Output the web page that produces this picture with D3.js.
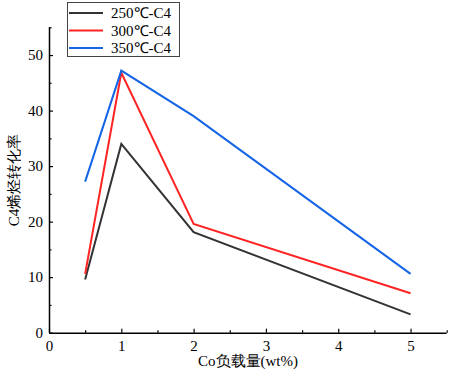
<!DOCTYPE html>
<html><head><meta charset="utf-8">
<script src="https://cdn.jsdelivr.net/npm/d3@7"></script>
<style>body{margin:0;background:#fff}</style>
</head><body>
<svg id="c" width="449" height="378"></svg>
<script>
const loading = [0.5, 1, 2, 5];
const s250 = [9.6, 34.0, 18.1, 3.3];
const s300 = [10.6, 46.8, 19.6, 7.1];
const s350 = [27.2, 47.2, 39.0, 10.6];
const seriesNames = ["250℃-C4", "300℃-C4", "350℃-C4"];
const colors = ["#333333", "#ff2424", "#1464e6"];
const xTicks = [0, 1, 2, 3, 4, 5];
const yTicks = [0, 10, 20, 30, 40, 50];

const svg = d3.select("#c");
const m = {l: 49, t: 27, r: 2, b: 45};
const W = 449, H = 378;
const x = d3.scaleLinear().domain([0, 5.5]).range([m.l, 446.7]);
const y = d3.scaleLinear().domain([0, 55]).range([332.7, 27.3]);
const font = "'Liberation Serif','Times New Roman',serif";

const series = [s250, s300, s350];
const line = d3.line().x((d, i) => x(loading[i])).y(d => y(d));
series.forEach((s, k) => {
  svg.append("path").datum(s).attr("d", line)
    .attr("fill", "none").attr("stroke", colors[k]).attr("stroke-width", 2);
});

// axes
const xAxis = svg.append("g").attr("transform", `translate(0,${y(0)})`)
  .call(d3.axisBottom(x).tickValues(xTicks).tickSize(-4).tickPadding(8).tickFormat(d3.format("d")));
svg.append("g").attr("transform", `translate(0,${y(0)})`)
  .call(d3.axisBottom(x).tickValues([0.5,1.5,2.5,3.5,4.5,5.5]).tickSize(-2.5).tickFormat("")).select(".domain").remove();
const yAxis = svg.append("g").attr("transform", `translate(${x(0)},0)`)
  .call(d3.axisLeft(y).tickValues(yTicks).tickSize(-4).tickPadding(6));
svg.append("g").attr("transform", `translate(${x(0)},0)`)
  .call(d3.axisLeft(y).tickValues([5,15,25,35,45,55]).tickSize(-2.5).tickFormat("")).select(".domain").remove();
svg.selectAll(".domain").attr("stroke", "#000").attr("stroke-width", 1.5);
svg.selectAll(".tick line").attr("stroke", "#000").attr("stroke-width", 1.2);
svg.selectAll(".tick text").attr("font-family", font).attr("font-size", 15).attr("fill", "#000");
svg.selectAll("g").attr("font-family", font);
yAxis.selectAll(".domain").attr("d", `M0.5,${y(55)}V${y(0)}`);
xAxis.selectAll(".domain").attr("d", `M${x(0)},0.5H${x(5.5)}`);

// axis titles
svg.append("text").attr("x", 248).attr("y", 366).attr("text-anchor", "middle")
  .attr("font-family", font).attr("font-size", 15).text("Co负载量(wt%)");
svg.append("text").attr("transform", `translate(19,${(y(0)+y(55))/2}) rotate(-90)`)
  .attr("text-anchor", "middle").attr("font-family", font).attr("font-size", 15).text("C4烯烃转化率");

// legend
const lg = svg.append("g");
lg.append("rect").attr("x", 67.5).attr("y", 2.5).attr("width", 112).attr("height", 54)
  .attr("fill", "#fff").attr("stroke", "#444").attr("stroke-width", 1);
seriesNames.forEach((n, k) => {
  const yy = 13 + k * 17.5;
  lg.append("line").attr("x1", 69).attr("x2", 103).attr("y1", yy).attr("y2", yy)
    .attr("stroke", colors[k]).attr("stroke-width", 2);
  lg.append("text").attr("x", 111).attr("y", yy + 5).attr("font-family", font)
    .attr("font-size", 15).text(n);
});
</script>
</body></html>
